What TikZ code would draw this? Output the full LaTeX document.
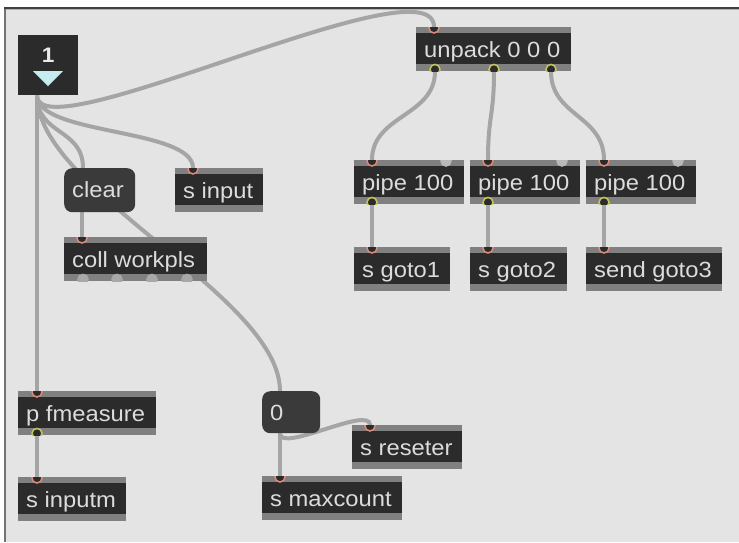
\documentclass[tikz,border=0pt]{standalone}
\usepackage{fontspec}
\newfontfamily\maxfont{Liberation Sans}[FakeStretch=1.08]
\usetikzlibrary{calc}
\pgfdeclarelayer{back}
\pgfdeclarelayer{cords}
\pgfsetlayers{back,cords,main}

\definecolor{panel}{HTML}{E4E4E4}
\definecolor{objstrip}{HTML}{808080}
\definecolor{objbody}{HTML}{2B2B2B}
\definecolor{msgbody}{HTML}{3A3A3A}
\definecolor{cordgray}{HTML}{A5A5A5}
\definecolor{labelgray}{HTML}{DCDCDC}
\definecolor{inletring}{HTML}{E08A78}
\definecolor{outletring}{HTML}{C6C65A}
\definecolor{portgray}{HTML}{A8A8A8}
\definecolor{arrowcyan}{HTML}{C4ECF1}

\tikzset{
  objbox/.style={fill=objstrip, draw=none, inner sep=0pt, minimum height=44pt},
  msgbox/.style={fill=msgbody, draw=none, rounded corners=8pt, inner sep=0pt},
  numbox/.style={fill=objbody, draw=none, inner sep=0pt},
  objlabel/.style={font=\maxfont\fontsize{22}{22}\selectfont, text=labelgray, inner sep=0pt},
  cord/.style={draw=cordgray, line width=4pt, line cap=round},
}

% object box: name, left, top, width, label
\newcommand\maxobj[5]{%
  \node[objbox, anchor=north west, minimum width=#4pt] (#1) at (#2,#3) {};
  \fill[objbody] ([yshift=-6pt]#1.north west) rectangle ([yshift=7pt]#1.south east);
  \node[objlabel, anchor=base west] (#1-label) at ([xshift=8pt,yshift=-30pt]#1.north west) {#5};
}
% port on the top edge: ring colour, fill, node, x offset
\newcommand\topport[4]{%
  \begin{scope}
    \clip (#3.north west) rectangle (#3.south east);
    \filldraw[fill=#2, draw=#1, line width=1.5pt] ([xshift=#4pt,yshift=-1pt]#3.north west) circle (5pt);
  \end{scope}}
% port on the bottom edge
\newcommand\bottomport[4]{%
  \begin{scope}
    \clip (#3.north west) rectangle (#3.south east);
    \filldraw[fill=#2, draw=#1, line width=1.5pt] ([xshift=#4pt,yshift=2pt]#3.south west) circle (5pt);
  \end{scope}}

\begin{document}
\begin{tikzpicture}[x=1pt, y=-1pt]
\useasboundingbox (0,0) rectangle (739,542);

\begin{pgfonlayer}{back}
  \fill[white] (0,0) rectangle (739,542);
  \fill[panel] (4,7) rectangle (739,542);
  \draw[color=black!55, line width=1.5pt] (4.75,542) -- (4.75,7.5);
  \draw[color=black!75, line width=2pt] (4,7.5) -- (739,7.5);
  \draw[color=white!70!black, line width=1pt] (6,9.5) -- (739,9.5);
\end{pgfonlayer}

% ---------- number box "1" ----------
\node[numbox, anchor=north west, minimum width=60pt, minimum height=60pt] (num1) at (18,35) {};
\node[objlabel, font=\maxfont\bfseries\fontsize{21}{21}\selectfont, text=white!92!black] (num1-label) at ([yshift=-20pt]num1.north) {1};
\fill[arrowcyan] ([xshift=15pt,yshift=-36pt]num1.north west) -- ([xshift=45pt,yshift=-36pt]num1.north west) -- ([xshift=30pt,yshift=-51pt]num1.north west) -- cycle;
\coordinate (num1-out) at ([xshift=19pt]num1.south west);

% ---------- left column ----------
\node[msgbox, anchor=north west, minimum width=71pt, minimum height=44pt] (clear) at (64,168) {};
\node[objlabel, anchor=base west] (clear-label) at ([xshift=8pt,yshift=-29pt]clear.north west) {clear};
\coordinate (clear-in) at ([xshift=19pt]clear.north west);
\coordinate (clear-out) at ([xshift=18pt]clear.south west);

\maxobj{sinput}{175}{168}{88}{s input}
\topport{inletring}{objbody}{sinput}{18}
\coordinate (sinput-in) at ([xshift=18pt]sinput.north west);

\maxobj{coll}{64}{237}{143}{coll workpls}
\topport{inletring}{objbody}{coll}{18}
\bottomport{portgray}{portgray}{coll}{19}
\bottomport{portgray}{portgray}{coll}{53}
\bottomport{portgray}{portgray}{coll}{88}
\bottomport{portgray}{portgray}{coll}{123}
\coordinate (coll-in) at ([xshift=18pt]coll.north west);

\maxobj{fmeasure}{18}{391}{138}{p fmeasure}
\topport{inletring}{objbody}{fmeasure}{19}
\bottomport{outletring}{objbody}{fmeasure}{19}
\coordinate (fmeasure-in) at ([xshift=19pt]fmeasure.north west);
\coordinate (fmeasure-out) at ([xshift=19pt]fmeasure.south west);

\maxobj{inputm}{18}{477}{108}{s inputm}
\topport{inletring}{objbody}{inputm}{19}
\coordinate (inputm-in) at ([xshift=19pt]inputm.north west);

% ---------- number box "0" and its receivers ----------
\node[msgbox, anchor=north west, minimum width=58pt, minimum height=42pt] (num0) at (262,391) {};
\node[objlabel, anchor=base west] (num0-label) at ([xshift=8pt,yshift=-29pt]num0.north west) {0};
\coordinate (num0-in) at ([xshift=18pt]num0.north west);
\coordinate (num0-out) at ([xshift=18pt]num0.south west);

\maxobj{reseter}{352}{425}{110}{s reseter}
\topport{inletring}{objbody}{reseter}{18}
\coordinate (reseter-in) at ([xshift=18pt]reseter.north west);

\maxobj{maxcount}{262}{476}{140}{s maxcount}
\topport{inletring}{objbody}{maxcount}{18}
\coordinate (maxcount-in) at ([xshift=18pt]maxcount.north west);

% ---------- unpack and the three pipes ----------
\maxobj{unpack}{416}{27}{155}{unpack 0 0 0}
\topport{inletring}{objbody}{unpack}{18}
\bottomport{outletring}{objbody}{unpack}{19}
\bottomport{outletring}{objbody}{unpack}{78}
\bottomport{outletring}{objbody}{unpack}{135}
\coordinate (unpack-in) at ([xshift=18pt]unpack.north west);
\coordinate (unpack-out1) at ([xshift=19pt]unpack.south west);
\coordinate (unpack-out2) at ([xshift=78pt]unpack.south west);
\coordinate (unpack-out3) at ([xshift=135pt]unpack.south west);

\maxobj{pipeA}{354}{160}{110}{pipe 100}
\maxobj{pipeB}{470}{160}{110}{pipe 100}
\maxobj{pipeC}{586}{160}{110}{pipe 100}
\maxobj{gotoA}{354}{247}{96}{s goto1}
\maxobj{gotoB}{470}{247}{97}{s goto2}
\maxobj{gotoC}{586}{247}{136}{send goto3}
\foreach \p in {pipeA,pipeB,pipeC} {
  \topport{inletring}{objbody}{\p}{18}
  \topport{portgray!80!white}{portgray!80!white}{\p}{92}
  \bottomport{outletring}{objbody}{\p}{18}
  \coordinate (\p-in) at ([xshift=18pt]\p.north west);
  \coordinate (\p-out) at ([xshift=18pt]\p.south west);
}
\foreach \g in {gotoA,gotoB,gotoC} {
  \topport{inletring}{objbody}{\g}{18}
  \coordinate (\g-in) at ([xshift=18pt]\g.north west);
}

% ---------- patch cords ----------
\begin{pgfonlayer}{cords}
  \draw[cord] (num1-out) .. controls +(0,60) and +(0,-70) .. (unpack-in);
  \draw[cord] (num1-out) .. controls +(0,40) and +(0,-40) .. (sinput-in);
  \draw[cord] (num1-out) .. controls +(0,40) and +(0,-40) .. (clear-in);
  \draw[cord] (num1-out) .. controls +(0,95) and +(0,-95) .. (num0-in);
  \draw[cord] (num1-out) -- (fmeasure-in);
  \draw[cord] (clear-out) -- (coll-in);
  \draw[cord] (fmeasure-out) -- (inputm-in);
  \draw[cord] (num0-out) -- (maxcount-in);
  \draw[cord] (num0-out) .. controls +(0,20) and +(0,-20) .. (reseter-in);
  \draw[cord] (unpack-out1) .. controls +(0,45) and +(0,-45) .. (pipeA-in);
  \draw[cord] (unpack-out2) .. controls +(0,45) and +(0,-45) .. (pipeB-in);
  \draw[cord] (unpack-out3) .. controls +(0,45) and +(0,-45) .. (pipeC-in);
  \draw[cord] (pipeA-out) -- (gotoA-in);
  \draw[cord] (pipeB-out) -- (gotoB-in);
  \draw[cord] (pipeC-out) -- (gotoC-in);
\end{pgfonlayer}
\end{tikzpicture}
\end{document}
